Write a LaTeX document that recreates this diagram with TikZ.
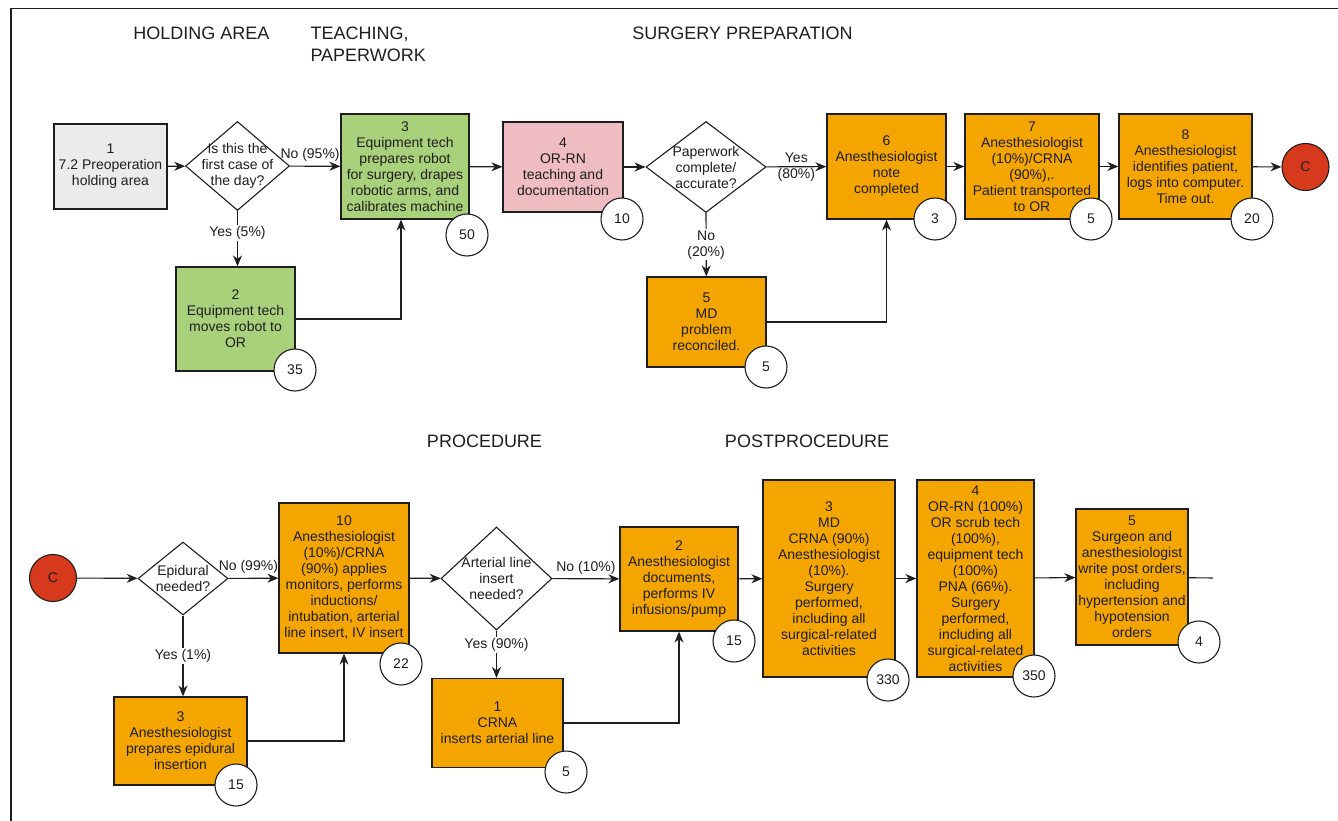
\documentclass[tikz,border=0pt]{standalone}
\usepackage{fontspec}
\setmainfont{Liberation Sans}
\usetikzlibrary{arrows.meta, shapes.geometric}

\definecolor{boxgray}{HTML}{EBEBEB}
\definecolor{boxgreen}{HTML}{A9D07B}
\definecolor{boxpink}{HTML}{EFBCC1}
\definecolor{boxorange}{HTML}{F5A500}
\definecolor{connred}{HTML}{D6391B}
\definecolor{ink}{HTML}{1E1E1E}

\tikzset{
  proc/.style={draw=ink, line width=1.3pt, rectangle, align=center, inner sep=0pt, text=ink},
  decision/.style={draw=ink, line width=1.1pt, diamond, inner sep=0pt, fill=white},
  badge/.style={draw=ink, line width=1.1pt, circle, fill=white, minimum size=42pt, inner sep=0pt},
  conn/.style={draw=ink, line width=1.1pt, circle, fill=connred, minimum size=47pt, inner sep=0pt},
  phase/.style={font=\fontsize{18}{22}\selectfont, inner sep=0pt, align=left, text=ink},
  cond/.style={fill=white, inner sep=1.5pt, align=center},
}

\begin{document}
\begin{tikzpicture}[x=1pt,y=-1pt,->,>={Stealth[length=11pt,width=9pt]},
    line width=1.1pt,color=ink,font=\fontsize{14}{16}\selectfont]
  \useasboundingbox (0,0) rectangle (1338,821);
  \draw[-,line width=1.4pt] (11,821) -- (11,8.5) -- (1338,8.5);

  % phases
  \node[phase] (hHold) at (201.5,33) {HOLDING AREA};
  \node[phase,anchor=west] (hTeach) at (310,44) {TEACHING,\\PAPERWORK};
  \node[phase] (hPrep) at (742.5,33) {SURGERY PREPARATION};
  \node[phase] (hProc) at (484.5,441) {PROCEDURE};
  \node[phase] (hPost) at (807,441) {POSTPROCEDURE};

  % first row
  \node[proc,fill=boxgray,minimum width=113pt,minimum height=85pt] (p1) at (110.5,166.5) {1\\7.2 Preoperation\\holding area};
  \node[decision,minimum width=104pt,minimum height=89pt,
    label={[align=center]center:{Is this the\\first case of\\the day?}}] (q1) at (237.5,166) {};
  \node[proc,fill=boxgreen,minimum width=128pt,minimum height=105pt] (p3) at (405,166.5) {3\\Equipment tech\\prepares robot\\for surgery, drapes\\robotic arms, and\\calibrates machine};
  \node[proc,fill=boxgreen,minimum width=119pt,minimum height=104pt] (p2) at (235.5,319) {2\\Equipment tech\\moves robot to\\OR};
  \node[proc,fill=boxpink,minimum width=120pt,minimum height=90pt] (p4) at (563,167) {4\\OR-RN\\teaching and\\documentation};
  \node[decision,minimum width=120pt,minimum height=91pt,
    label={[align=center]center:{Paperwork\\complete/\\accurate?}}] (q2) at (706,167) {};
  \node[proc,fill=boxorange,minimum width=119pt,minimum height=90pt] (p5) at (706.5,322) {5\\MD\\problem\\reconciled.};
  \node[proc,fill=boxorange,minimum width=119pt,minimum height=105pt] (p6) at (886.5,166.5) {6\\Anesthesiologist\\note\\completed};
  \node[proc,fill=boxorange,minimum width=134pt,minimum height=105pt] (p7) at (1032,166.5) {7\\Anesthesiologist\\(10\%)/CRNA\\(90\%),.\\Patient transported\\to OR};
  \node[proc,fill=boxorange,minimum width=133pt,minimum height=105pt] (p8) at (1185.5,166.5) {8\\Anesthesiologist\\identifies patient,\\logs into computer.\\Time out.};
  \node[conn] (cOut) at (1305.5,167) {C};

  \draw (p1) -- (q1);
  \draw (q1) -- node[above,pos=0.4,inner sep=4pt] {No (95\%)} (p3);
  \draw (q1.south) -- node[cond,pos=0.4] {Yes (5\%)} (q1.south |- p2.north);
  \draw (p2.east) -| ([xshift=-4pt]p3.south);
  \draw (p3) -- (p4);
  \draw (p4) -- (q2);
  \draw (q2) -- node[align=center] {Yes\\(80\%)} (p6);
  \draw (q2.south) -- node[cond] {No\\(20\%)} (p5);
  \draw (p5.east) -| (p6.south);
  \draw (p6) -- (p7);
  \draw (p7) -- (p8);
  \draw (p8) -- (cOut);

  \node[badge] (t3) at (467,235) {50};
  \node[badge] (t2) at (295,370) {35};
  \node[badge] (t4) at (622,219) {10};
  \node[badge] (t5) at (766,367) {5};
  \node[badge] (t6) at (935,219) {3};
  \node[badge] (t7) at (1091,219) {5};
  \node[badge] (t8) at (1252,219) {20};

  % second row
  \node[conn] (cIn) at (53,578) {C};
  \node[decision,minimum width=90pt,minimum height=73pt,
    label={[align=center]center:{Epidural\\needed?}}] (q3) at (183,578.5) {};
  \node[proc,fill=boxorange,minimum width=130pt,minimum height=150pt] (p10) at (344,578) {10\\Anesthesiologist\\(10\%)/CRNA\\(90\%) applies\\monitors, performs\\inductions/\\intubation, arterial\\line insert, IV insert};
  \node[proc,fill=boxorange,minimum width=133pt,minimum height=88pt] (p9) at (180.5,741) {3\\Anesthesiologist\\prepares epidural\\insertion};
  \node[decision,minimum width=111pt,minimum height=103pt,
    label={[align=center]center:{Arterial line\\insert\\needed?}}] (q4) at (496.5,578.5) {};
  \node[proc,fill=boxorange,minimum width=118pt,minimum height=104pt] (p12) at (679,579) {2\\Anesthesiologist\\documents,\\performs IV\\infusions/pump};
  \node[proc,fill=boxorange,minimum width=131pt,minimum height=89pt] (p11) at (497.5,723) {1\\CRNA\\inserts arterial line};
  \node[proc,fill=boxorange,minimum width=132pt,minimum height=197pt] (p13) at (829,578.5) {3\\MD\\CRNA (90\%)\\Anesthesiologist\\(10\%).\\Surgery\\performed,\\including all\\surgical-related\\activities};
  \node[proc,fill=boxorange,minimum width=117pt,minimum height=197pt] (p14) at (975.5,578.5) {4\\OR-RN (100\%)\\OR scrub tech\\(100\%),\\equipment tech\\(100\%)\\PNA (66\%).\\Surgery\\performed,\\including all\\surgical-related\\activities};
  \node[proc,fill=boxorange,minimum width=112pt,minimum height=136pt] (p15) at (1132,577) {5\\Surgeon and\\anesthesiologist\\write post orders,\\including\\hypertension and\\hypotension\\orders};
  \coordinate (tail) at (1213,578);

  \draw (cIn) -- (q3);
  \draw (q3) -- node[above,pos=0.4,inner sep=4pt] {No (99\%)} (p10);
  \draw (q3.south) -- node[cond] {Yes (1\%)} (q3.south |- p9.north);
  \draw (p9.east) -| (p10.south);
  \draw (p10) -- (q4);
  \draw (q4) -- node[above,inner sep=4pt] {No (10\%)} (p12);
  \draw (q4.south) -- node[cond,pos=0.3] {Yes (90\%)} (q4.south |- p11.north);
  \draw (p11.east) -| (p12.south);
  \draw (p12) -- (p13);
  \draw (p13) -- (p14);
  \draw (p14) -- (p15);
  \draw[-] (p15) -- (tail);

  \node[badge] (t10) at (401,664) {22};
  \node[badge] (t9) at (236,785) {15};
  \node[badge] (t11) at (566,772) {5};
  \node[badge] (t12) at (734,641) {15};
  \node[badge] (t13) at (888,680) {330};
  \node[badge] (t14) at (1034,676) {350};
  \node[badge] (t15) at (1199,642) {4};
\end{tikzpicture}
\end{document}
